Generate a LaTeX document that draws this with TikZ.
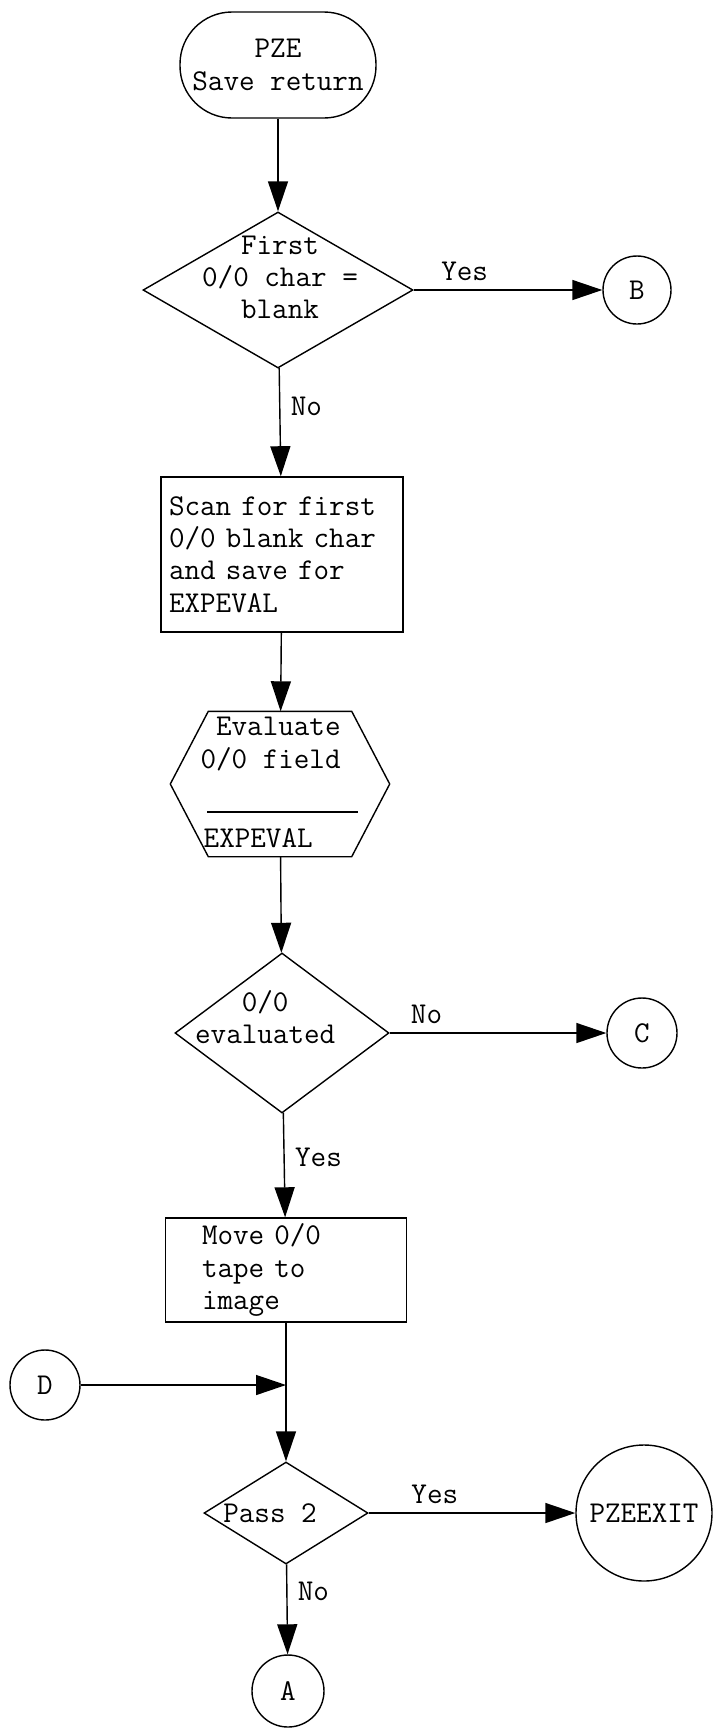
\documentclass[tikz,border=0pt]{standalone}
\usepackage{fontspec}
\usetikzlibrary{shapes.geometric,arrows.meta,positioning}

\begin{document}
\begin{tikzpicture}[
    font=\ttfamily\fontsize{21.5}{23}\selectfont,
    line width=1pt,
    flow/.style={-{Triangle[length=0.75cm,width=0.5cm]}},
    terminal/.style={
        rectangle, draw, rounded corners=1.3cm,
        minimum width=4.9cm, minimum height=2.65cm, align=center
    },
    process/.style={
        rectangle, draw, align=left, inner sep=0pt
    },
    decision/.style={diamond, draw, inner sep=0pt},
    connector/.style={circle, draw, inner sep=0pt, minimum size=1.75cm}
]

\useasboundingbox (0,0) rectangle (17.825,-43.2);

% Start
\node[terminal] (start) at (6.95,-1.625) {PZE\\Save return};

% First decision
\node[decision, minimum width=6.75cm, minimum height=3.9cm] (q1) at (6.95,-7.25) {};
\node[align=center] (q1text) at (7.0,-6.93) {First\\0/0 char =\\blank};
\node[connector, minimum size=1.7cm] (b) at (15.925,-7.25) {B};

% Scan box
\node[process, text width=5.65cm, minimum width=6.05cm, minimum height=3.875cm] (scan) at (7.05,-13.86)
    {Scan for first\\0/0 blank char\\and save for\\EXPEVAL};

% Subroutine hexagon
\node[minimum width=5.45cm, minimum height=3.6cm] (hex) at (7.0,-19.6) {};
\draw ([xshift=0.95cm]hex.north west) -- ([xshift=-0.95cm]hex.north east) -- (hex.east)
    -- ([xshift=-0.95cm]hex.south east) -- ([xshift=0.95cm]hex.south west) -- (hex.west) -- cycle;
\node[align=right, anchor=east] (hextext) at (8.65,-18.6) {Evaluate\\0/0 field};
\draw (5.175,-20.3) -- (8.95,-20.3);
\node[anchor=west, inner sep=0pt] (hexname) at (5.075,-20.95) {EXPEVAL};

% Second decision
\node[decision, minimum width=5.35cm, minimum height=4.0cm] (q2) at (7.05,-25.825) {};
\node[align=center] (q2text) at (6.63,-25.43) {0/0\\evaluated};
\node[connector] (c) at (16.05,-25.825) {C};

% Move box
\node[process, text width=4.2cm, minimum width=6.025cm, minimum height=2.6cm] (move) at (7.15,-31.75)
    {Move 0/0\\tape to\\image};

% Entry D
\node[connector] (d) at (1.125,-34.625) {D};
\coordinate (join) at (move.south |- d.east);

% Third decision
\node[decision, minimum width=4.1cm, minimum height=2.55cm] (q3) at (7.15,-37.825) {};
\node (q3text) at (6.75,-37.825) {Pass 2};
\node[connector, minimum size=3.4cm] (exit) at (16.1,-37.825) {PZEEXIT};
\node[connector, minimum size=1.8cm] (a) at (7.2,-42.275) {A};

% Flow lines
\draw[flow] (start) -- (q1);
\draw[flow] (q1) -- node[pos=0.27, above=3pt] (yes1) {Yes} (b);
\draw[flow] (q1) -- node[pos=0.35, right=4pt] (no1) {No} (scan);
\draw[flow] (scan) -- (hex);
\draw[flow] (hex) -- (q2);
\draw[flow] (q2) -- node[pos=0.17, above=3pt] (no2) {No} (c);
\draw[flow] (q2) -- node[pos=0.43, right=4pt] (yes2) {Yes} (move);
\draw[flow] (move) -- (q3);
\draw[flow] (d) -- (join);
\draw[flow] (q3) -- node[pos=0.32, above=3pt] (yes3) {Yes} (exit);
\draw[flow] (q3) -- node[pos=0.3, right=4pt] (no3) {No} (a);

\end{tikzpicture}
\end{document}
